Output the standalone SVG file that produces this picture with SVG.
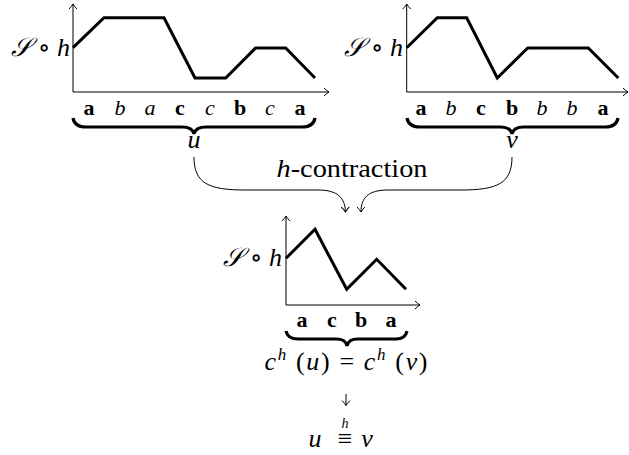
<svg xmlns="http://www.w3.org/2000/svg" width="629" height="455" viewBox="0 0 629 455">
<defs>
<style>
.ax{fill:none;stroke:#000;stroke-width:1;}
.pl{fill:none;stroke:#000;stroke-width:3;stroke-linejoin:miter;}
.br{fill:none;stroke:#000;stroke-width:3.2;stroke-linecap:butt;}
.cv{fill:none;stroke:#000;stroke-width:1;}
text{fill:#000;font-family:'Liberation Serif','DejaVu Serif',serif;}
.t{font-size:26px;}
.i{font-style:italic;}
.l{font-size:22px;text-anchor:middle;}
.b{font-weight:bold;}
</style>
<marker id="ah" viewBox="-6 -5 8 10" markerWidth="8" markerHeight="10" refX="0" refY="0" orient="auto" markerUnits="userSpaceOnUse">
<path d="M-5,-4 Q-2,-1 0,0 Q-2,1 -5,4" fill="none" stroke="#000" stroke-width="1"/>
</marker>
</defs>

<g id="chart-u">
<path class="ax" d="M73,92 V4" marker-end="url(#ah)"/>
<path class="ax" d="M73,92 H329" marker-end="url(#ah)"/>
<path class="pl" d="M73,47.7 L104,17.7 L164,17.7 L195,78 L225.7,78 L255.5,48 L285.7,48 L315,78"/>
<text class="t" x="70" y="56" text-anchor="end"><tspan class="i">𝒮</tspan> ∘ <tspan class="i">h</tspan></text>
<text class="l" y="115"><tspan class="b" x="89">a</tspan><tspan class="i" x="120">b</tspan><tspan class="i" x="150">a</tspan><tspan class="b" x="180">c</tspan><tspan class="i" x="210">c</tspan><tspan class="b" x="240">b</tspan><tspan class="i" x="270">c</tspan><tspan class="b" x="300">a</tspan></text>
<path class="br" d="M73,118 C74,124 78,127 86,127 L182,127 C189,127 193,129 194,134 C195,129 199,127 206,127 L302,127 C310,127 314,124 315,118"/>
<text class="t i" x="194" y="148" text-anchor="middle">u</text>
</g>

<g id="chart-v">
<path class="ax" d="M406.7,92 V4" marker-end="url(#ah)"/>
<path class="ax" d="M406.7,92 H628" marker-end="url(#ah)"/>
<path class="pl" d="M406.7,47.7 L437.3,17.7 L466.7,17.7 L497.3,78 L527.7,48 L588.3,48 L618.3,78"/>
<text class="t" x="403" y="56" text-anchor="end"><tspan class="i">𝒮</tspan> ∘ <tspan class="i">h</tspan></text>
<text class="l" y="115"><tspan class="b" x="421">a</tspan><tspan class="i" x="451">b</tspan><tspan class="b" x="481">c</tspan><tspan class="b" x="512">b</tspan><tspan class="i" x="542">b</tspan><tspan class="i" x="572">b</tspan><tspan class="b" x="603">a</tspan></text>
<path class="br" d="M407,118 C408,124 412,127 420,127 L500,127 C507,127 511,129 512,134 C513,129 517,127 524,127 L605,127 C613,127 617,124 618,118"/>
<text class="t i" x="512" y="148" text-anchor="middle">v</text>
</g>

<g id="label-contraction">
<text class="t" x="352" y="177" text-anchor="middle" textLength="151" lengthAdjust="spacingAndGlyphs"><tspan class="i">h</tspan>-contraction</text>
</g>

<g id="connectors">
<path class="cv" d="M194,157 C194,183 208,190 245,190 L318,190 C338,190 345,198 345.5,212" marker-end="url(#ah)"/>
<path class="cv" d="M512,157 C512,183 498,190 461,190 L388,190 C368,190 361,198 361,212" marker-end="url(#ah)"/>
<path class="cv" d="M346,394 V405.5" marker-end="url(#ah)"/>
</g>

<g id="chart-contracted">
<path class="ax" d="M286,305 V216" marker-end="url(#ah)"/>
<path class="ax" d="M286,305 H420" marker-end="url(#ah)"/>
<path class="pl" d="M286,258.3 L315,229.3 L346.7,289.3 L376.7,259.3 L406,289.3"/>
<text class="t" x="282" y="266" text-anchor="end"><tspan class="i">𝒮</tspan> ∘ <tspan class="i">h</tspan></text>
<text class="l" y="327"><tspan class="b" x="302">a</tspan><tspan class="b" x="332">c</tspan><tspan class="b" x="361">b</tspan><tspan class="b" x="391">a</tspan></text>
<path class="br" d="M286,331 C287,336 291,339 298,339 L336,339 C343,339 346,341 347,346 C348,341 351,339 358,339 L396,339 C403,339 406,336 407,331"/>
</g>

<g id="result">
<text class="t" x="346" y="370" text-anchor="middle" textLength="163" lengthAdjust="spacing"><tspan class="i">c</tspan><tspan class="i" font-size="17" dy="-10">h</tspan><tspan dy="10"> (</tspan><tspan class="i">u</tspan>) = <tspan class="i">c</tspan><tspan class="i" font-size="17" dy="-10">h</tspan><tspan dy="10"> (</tspan><tspan class="i">v</tspan>)</text>
<text class="t" y="447" text-anchor="middle"><tspan class="i" x="315">u</tspan><tspan x="345">≡</tspan><tspan class="i" x="367">v</tspan></text>
<text class="i" x="345" y="428" text-anchor="middle" font-size="14">h</text>
</g>
</svg>
